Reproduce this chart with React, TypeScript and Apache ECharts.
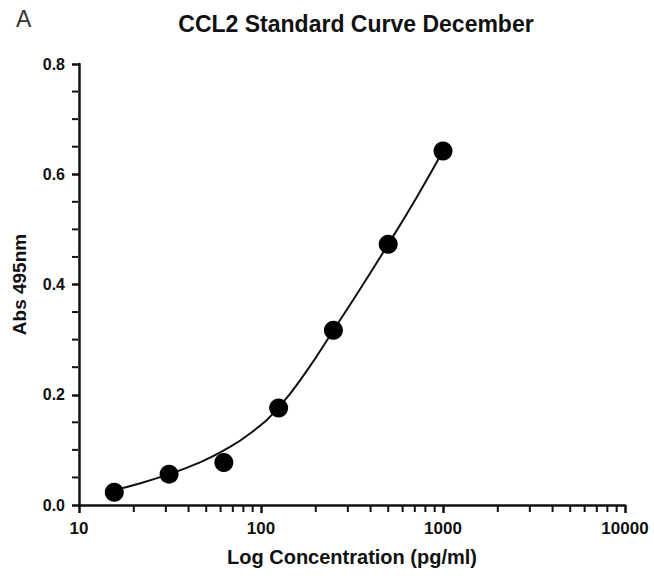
import React, { useEffect, useRef } from "react";
import * as echarts from "echarts";

const concentration = [15.625, 31.25, 62.5, 125, 250, 500, 1000];
const absorbance = [0.023, 0.056, 0.077, 0.176, 0.317, 0.473, 0.642];

const fitX = [15.6, 22, 31.25, 44.4, 62.5, 88.9, 125, 178, 250, 357, 500, 716, 1000];
const fitY = [0.027, 0.04, 0.056, 0.075, 0.099, 0.132, 0.177, 0.243, 0.317, 0.396, 0.473, 0.558, 0.642];

const xMinorTicks = [20, 30, 40, 50, 60, 70, 80, 90, 200, 300, 400, 500, 600, 700, 800, 900, 2000, 3000, 4000, 5000, 6000, 7000, 8000, 9000];
const yMinorTicks = [0.05, 0.1, 0.15, 0.25, 0.3, 0.35, 0.45, 0.5, 0.55, 0.65, 0.7, 0.75];

const title = "CCL2 Standard Curve December";
const panelLetter = "A";
const xName = "Log Concentration (pg/ml)";
const yName = "Abs 495nm";

const FONT = "'Liberation Sans', Arial, sans-serif";
const INK = "#111";

export default function App() {
  const ref = useRef<HTMLDivElement>(null);
  useEffect(() => {
    if (!ref.current) return;
    const chart = echarts.init(ref.current, undefined, { renderer: "svg" });
    chart.setOption({
      animation: false,
      backgroundColor: "#fff",
      title: [
        {
          text: title,
          left: 351,
          textAlign: "center",
          top: 7,
          textStyle: { fontFamily: FONT, fontSize: 23, fontWeight: "bold", color: INK },
        },
        {
          text: panelLetter,
          left: 11,
          top: 2,
          textStyle: { fontFamily: FONT, fontSize: 23, fontWeight: "normal", color: "#333" },
        },
      ],
      grid: { left: 79, right: 29, top: 64, bottom: 73, containLabel: false },
      xAxis: {
        type: "log",
        logBase: 10,
        min: 10,
        max: 10000,
        name: xName,
        nameLocation: "middle",
        nameGap: 42,
        nameTextStyle: { fontFamily: FONT, fontSize: 20, fontWeight: "bold", color: INK },
        axisLine: { show: true, lineStyle: { color: INK, width: 2.5 } },
        axisTick: { show: true, length: 8, lineStyle: { color: INK, width: 2.5 } },
        axisLabel: {
          fontFamily: FONT,
          fontSize: 17,
          fontWeight: "bold",
          color: INK,
          margin: 15,
          showMaxLabel: true,
          showMinLabel: true,
          formatter: (v: number) => String(Math.round(v)),
        },
        splitLine: { show: false },
        minorTick: { show: false },
      },
      yAxis: {
        type: "value",
        min: 0,
        max: 0.8,
        interval: 0.2,
        name: yName,
        nameLocation: "middle",
        nameGap: 50,
        nameTextStyle: { fontFamily: FONT, fontSize: 19, fontWeight: "bold", color: INK },
        axisLine: { show: true, lineStyle: { color: INK, width: 2.5 } },
        axisTick: { show: true, length: 7, lineStyle: { color: INK, width: 2.5 } },
        minorTick: { show: false },
        axisLabel: {
          fontFamily: FONT,
          fontSize: 16,
          fontWeight: "bold",
          color: INK,
          margin: 14,
          formatter: (v: number) => v.toFixed(1),
        },
        splitLine: { show: false },
      },
      series: [
        {
          type: "line",
          data: fitX.map((x, i) => [x, fitY[i]]),
          smooth: 0.5,
          showSymbol: false,
          symbol: "none",
          lineStyle: { color: INK, width: 2 },
          z: 2,
        },
        {
          type: "scatter",
          data: concentration.map((x, i) => [x, absorbance[i]]),
          symbol: "circle",
          symbolSize: 19,
          itemStyle: { color: "#000", opacity: 1 },
          z: 3,
        },
        {
          name: "xMinor",
          type: "scatter",
          clip: false,
          silent: true,
          data: xMinorTicks.map((v) => [v, 0]),
          symbol: "rect",
          symbolSize: [2, 6],
          symbolOffset: [0, 4],
          itemStyle: { color: INK, opacity: 1 },
          z: 5,
        },
        {
          name: "yMinor",
          type: "scatter",
          clip: false,
          silent: true,
          data: yMinorTicks.map((v) => [10, v]),
          symbol: "rect",
          symbolSize: [6, 2],
          symbolOffset: [-4, 0],
          itemStyle: { color: INK, opacity: 1 },
          z: 5,
        },
      ],
    });
    return () => chart.dispose();
  }, []);
  return (
    <div
      ref={ref}
      style={{ position: "absolute", left: 0, top: 0, width: 654, height: 578 }}
    />
  );
}
